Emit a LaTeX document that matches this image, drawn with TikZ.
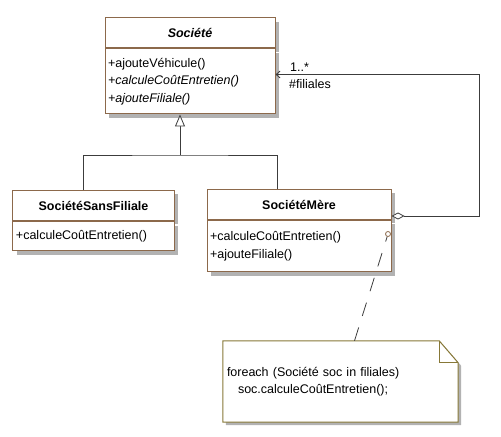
\documentclass[tikz,border=0pt]{standalone}
\usepackage{fontspec}
\setmainfont{Liberation Sans}
\usetikzlibrary{positioning,arrows.meta,shadows,backgrounds}

\definecolor{classbrown}{RGB}{140,105,75}
\definecolor{noteolive}{RGB}{135,120,55}
\definecolor{linegray}{RGB}{60,60,60}
\definecolor{shadowgray}{RGB}{178,178,178}

\newcommand{\umlfont}{\fontsize{12.5bp}{17.5bp}\selectfont}

\tikzset{
  boxshadow/.style={drop shadow={shadow xshift=4bp, shadow yshift=-4bp, fill=shadowgray, opacity=1}},
  classhead/.style={draw=classbrown, line width=1bp, fill=white, minimum height=30bp, inner sep=0pt, font=\umlfont\bfseries, boxshadow},
  classbody/.style={draw=classbrown, line width=1bp, fill=white, inner xsep=3bp, inner ysep=0pt, align=left, font=\umlfont, boxshadow},
  notebox/.style={minimum width=235bp, minimum height=81bp, text width=227bp, inner xsep=4bp, inner ysep=0pt, align=left, font=\umlfont},
  conn/.style={draw=linegray, line width=0.8bp},
}

\begin{document}
\begin{tikzpicture}[x=1bp,y=-1bp]

\useasboundingbox (0,0) rectangle (501,437);

% classes
\node[classhead, minimum width=170bp, font=\umlfont\bfseries\itshape] (socT) at (190,33) {Société};
\node[classbody, text width=164bp, minimum height=65bp, below=0pt of socT] (socB)
  {+ajouteVéhicule()\\ \textit{+calculeCoûtEntretien()}\\ \textit{+ajouteFiliale()}};

\node[classhead, minimum width=161bp] (sansT) at (93.5,205.5) {SociétéSansFiliale};
\node[classbody, text width=155bp, minimum height=29bp, below=0pt of sansT] (sansB)
  {+calculeCoûtEntretien()};

\node[classhead, minimum width=184bp] (mereT) at (299,204.5) {SociétéMère};
\node[classbody, text width=178bp, minimum height=51bp, below=0pt of mereT] (mereB)
  {+calculeCoûtEntretien()\\ +ajouteFiliale()};

% inheritance
\coordinate (fork) at (180,155);
\draw[conn,-{Triangle[open,fill=white,length=12bp,width=10bp]}] (fork) -- (fork |- socB.south);
\draw[conn] ([xshift=-10.5bp]sansT.north) |- (fork) -| ([xshift=-22bp]mereT.north);

% aggregation
\coordinate (bend) at (479,74.5);
\draw[conn,{Diamond[open,fill=white,length=13bp,width=7bp]}-{Straight Barb[length=4bp,width=7bp]}]
  ([yshift=-11.5bp]mereT.east) -| (bend) -- (bend -| socB.east);
\node[font=\umlfont, anchor=south west, inner sep=0pt] (mult) at (290,72) {1..*};
\node[font=\umlfont, anchor=north west, inner sep=0pt] (role) at (289,79) {\#filiales};

% note
\node[circle, draw=classbrown, line width=0.8bp, inner sep=0pt, minimum size=5bp] (dot) at (388,234) {};
\node[notebox] (note) at (340.5,381.5)
  {foreach (Société soc in filiales)\\ \hspace*{11bp}soc.calculeCoûtEntretien();};
\begin{scope}[on background layer]
\fill[shadowgray, transform canvas={shift={(3bp,-3bp)}}] (note.north west) -- ([xshift=-19bp]note.north east)
  -- ([yshift=-22bp]note.north east) -- (note.south east) -- (note.south west) -- cycle;
\filldraw[fill=white, draw=noteolive, line width=1bp] (note.north west) -- ([xshift=-19bp]note.north east)
  -- ([yshift=-22bp]note.north east) -- (note.south east) -- (note.south west) -- cycle;
\end{scope}
\draw[draw=noteolive, line width=1bp] ([xshift=-19bp]note.north east) |- ([yshift=-22bp]note.north east);
\draw[conn, dash pattern=on 14bp off 12bp] ([xshift=14bp]note.north) -- (dot);

\end{tikzpicture}
\end{document}
